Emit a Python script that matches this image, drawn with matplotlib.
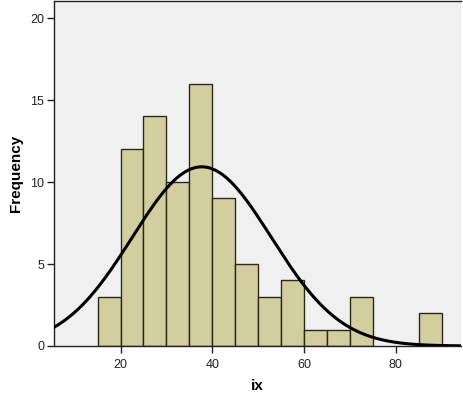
import numpy as np
import matplotlib
matplotlib.use("Agg")
import matplotlib.pyplot as plt

plt.rcParams["font.family"] = ["Liberation Sans", "DejaVu Sans"]

bin_edges = [15, 20, 25, 30, 35, 40, 45, 50, 55, 60, 65, 70, 75, 80, 85, 90]
counts = [3, 12, 14, 10, 16, 9, 5, 3, 4, 1, 1, 3, 0, 0, 2]
mean = 37.7
std = 15.15

x_ticks = [20, 40, 60, 80]
y_ticks = [0, 5, 10, 15, 20]

fig = plt.figure(figsize=(4.64, 3.93), dpi=100)
ax = fig.add_axes([54 / 464, 1 - 346 / 393, (461 - 54) / 464, (346 - 1) / 393])
ax.set_facecolor("#f0f0f0")

left = np.array(bin_edges[:-1])
width = np.diff(bin_edges)
heights = np.array(counts)
mask = heights > 0
ax.bar(left[mask], heights[mask], width=width[mask], align="edge",
       color="#d3ce9f", edgecolor="#2a2a1a", linewidth=1.0, zorder=2)

# Curva normal escalada a frecuencias
n = heights.sum()
bw = 5
xs = np.linspace(5.5, 94.2, 400)
ys = n * bw / (std * np.sqrt(2 * np.pi)) * np.exp(-0.5 * ((xs - mean) / std) ** 2)
ax.plot(xs, ys, color="black", linewidth=2.2, zorder=3)

ax.set_xlim(5.5, 94.2)
ax.set_ylim(0, 21.04)
ax.set_xticks(x_ticks)
ax.set_yticks(y_ticks)
ax.tick_params(direction="out", length=5, width=1, colors="#222222",
               labelsize=9, labelcolor="#222222")
ax.tick_params(axis="x", pad=4)
ax.tick_params(axis="y", pad=2)

for side in ["left", "bottom", "top"]:
    ax.spines[side].set_color("#222222")
    ax.spines[side].set_linewidth(1.0)
ax.spines["right"].set_visible(False)

ax.set_xlabel("ix", fontsize=11, fontweight="bold", labelpad=6)
ax.set_ylabel("Frequency", fontsize=11, fontweight="bold", labelpad=5)

fig.savefig("out.png", dpi=100)
